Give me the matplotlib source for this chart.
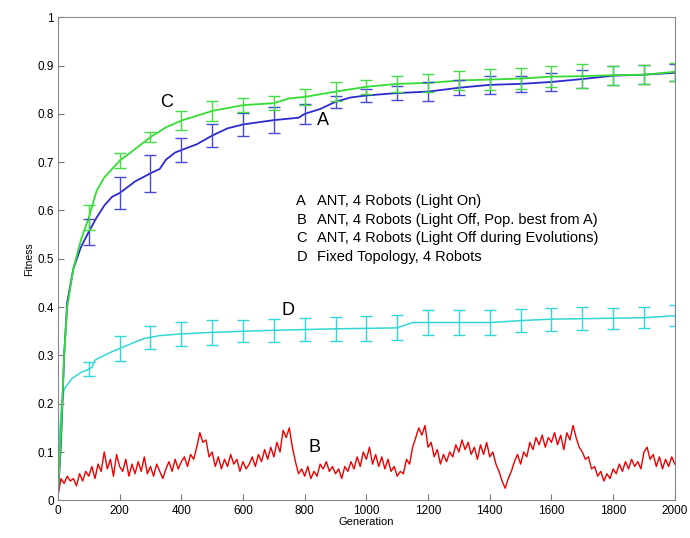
import matplotlib
matplotlib.use('Agg')
import matplotlib.pyplot as plt
import numpy as np

plt.rcParams['font.family'] = ['Liberation Sans', 'DejaVu Sans']

# Curve A: ANT, 4 robots (light on)
gen_a = [0, 10, 20, 30, 50, 75, 100, 125, 150, 175, 200, 250, 300, 330, 350, 380, 400,
         450, 500, 550, 600, 700, 780, 800, 850, 900, 950, 1000, 1100, 1200, 1300,
         1400, 1500, 1600, 1700, 1800, 1900, 2000]
fit_a = [0.01, 0.12, 0.30, 0.41, 0.48, 0.525, 0.556, 0.585, 0.61, 0.628, 0.636, 0.66, 0.677,
         0.686, 0.705, 0.72, 0.725, 0.737, 0.755, 0.77, 0.778, 0.787, 0.792, 0.80, 0.81,
         0.825, 0.834, 0.838, 0.843, 0.846, 0.854, 0.86, 0.862, 0.866, 0.872, 0.879,
         0.881, 0.885]

# Curve C: ANT, 4 robots (light off during evolutions)
gen_c = [0, 10, 20, 30, 50, 75, 100, 125, 150, 200, 250, 300, 350, 400, 450, 500, 550,
         600, 700, 750, 800, 900, 1000, 1100, 1200, 1300, 1400, 1500, 1600, 1700, 1800,
         1900, 2000]
fit_c = [0.01, 0.14, 0.30, 0.40, 0.48, 0.54, 0.585, 0.64, 0.668, 0.703, 0.727, 0.752, 0.772,
         0.786, 0.796, 0.806, 0.812, 0.818, 0.822, 0.832, 0.835, 0.846, 0.856, 0.862,
         0.864, 0.869, 0.871, 0.873, 0.877, 0.878, 0.880, 0.881, 0.887]

# Curve D: fixed topology, 4 robots
gen_d = [0, 5, 10, 20, 45, 75, 95, 110, 120, 140, 180, 240, 280, 330, 390, 480, 600, 700,
         900, 1100, 1150, 1200, 1400, 1500, 1600, 1700, 1900, 2000]
fit_d = [0.01, 0.13, 0.185, 0.23, 0.252, 0.265, 0.27, 0.275, 0.29, 0.297, 0.309, 0.325,
         0.335, 0.341, 0.344, 0.347, 0.35, 0.352, 0.355, 0.357, 0.368, 0.368, 0.368,
         0.372, 0.375, 0.376, 0.378, 0.382]

# error bars every 100 generations
err_gen = [100, 200, 300, 400, 500, 600, 700, 800, 900, 1000, 1100, 1200, 1300, 1400,
           1500, 1600, 1700, 1800, 1900, 2000]
err_a = [0.027, 0.033, 0.038, 0.025, 0.024, 0.024, 0.027, 0.02, 0.012, 0.014, 0.015,
         0.02, 0.016, 0.018, 0.017, 0.018, 0.018, 0.02, 0.02, 0.018]
err_c = [0.026, 0.016, 0.011, 0.02, 0.02, 0.014, 0.014, 0.016, 0.02, 0.015, 0.016,
         0.018, 0.019, 0.022, 0.022, 0.022, 0.025, 0.02, 0.02, 0.018]
err_d = [0.014, 0.025, 0.024, 0.025, 0.025, 0.023, 0.024, 0.024, 0.025, 0.026, 0.026,
         0.025, 0.025, 0.025, 0.024, 0.024, 0.024, 0.022, 0.022, 0.022]

# Curve B: ANT, 4 robots (light off, pop. best from A), every 10 generations
gen_b = list(range(0, 2001, 10))
fit_b = [0.01, 0.045, 0.035, 0.05, 0.04, 0.045, 0.03, 0.055, 0.04, 0.06,
         0.05, 0.07, 0.045, 0.075, 0.06, 0.1, 0.065, 0.085, 0.05, 0.095,
         0.07, 0.06, 0.085, 0.05, 0.075, 0.055, 0.08, 0.06, 0.09, 0.055,
         0.07, 0.05, 0.075, 0.06, 0.045, 0.065, 0.08, 0.06, 0.085, 0.065,
         0.08, 0.09, 0.07, 0.095, 0.085, 0.11, 0.14, 0.12, 0.125, 0.09,
         0.1, 0.07, 0.09, 0.065, 0.085, 0.07, 0.095, 0.075, 0.085, 0.06,
         0.08, 0.065, 0.075, 0.09, 0.07, 0.095, 0.08, 0.105, 0.085, 0.11,
         0.09, 0.12, 0.1, 0.145, 0.13, 0.15, 0.11, 0.08, 0.055, 0.065,
         0.05, 0.07, 0.045, 0.06, 0.05, 0.075, 0.065, 0.08, 0.06, 0.07,
         0.055, 0.065, 0.045, 0.07, 0.06, 0.08, 0.065, 0.09, 0.07, 0.1,
         0.085, 0.11, 0.075, 0.095, 0.07, 0.09, 0.065, 0.085, 0.06, 0.07,
         0.05, 0.06, 0.055, 0.085, 0.075, 0.11, 0.13, 0.15, 0.135, 0.155,
         0.11, 0.12, 0.09, 0.105, 0.075, 0.095, 0.08, 0.1, 0.09, 0.115,
         0.1, 0.125, 0.105, 0.12, 0.095, 0.11, 0.085, 0.115, 0.095, 0.12,
         0.09, 0.1, 0.075, 0.06, 0.04, 0.025, 0.045, 0.06, 0.08, 0.095,
         0.075, 0.1, 0.09, 0.12, 0.105, 0.13, 0.115, 0.135, 0.11, 0.13,
         0.12, 0.14, 0.115, 0.135, 0.105, 0.14, 0.125, 0.155, 0.13, 0.11,
         0.1, 0.085, 0.09, 0.065, 0.07, 0.05, 0.06, 0.04, 0.055, 0.045,
         0.065, 0.055, 0.075, 0.06, 0.08, 0.065, 0.085, 0.07, 0.08, 0.065,
         0.1, 0.11, 0.085, 0.095, 0.07, 0.09, 0.065, 0.085, 0.07, 0.09,
         0.075]

legend_keys = ['A', 'B', 'C', 'D']
legend_text = ['ANT, 4 Robots (Light On)',
               'ANT, 4 Robots (Light Off, Pop. best from A)',
               'ANT, 4 Robots (Light Off during Evolutions)',
               'Fixed Topology, 4 Robots']

col_a = '#2a2ad0'
col_b = '#ee0000'
col_c = '#33dd33'
col_d = '#33d6d6'

fig = plt.figure(figsize=(6.9, 5.38), dpi=100)
ax = fig.add_axes([0.084, 0.07, 0.894, 0.898])

ax.plot(gen_b, fit_b, color=col_b, lw=1.0)
ax.plot(gen_d, fit_d, color=col_d, lw=1.1)
ax.plot(gen_a, fit_a, color=col_a, lw=1.3)
ax.plot(gen_c, fit_c, color=col_c, lw=1.3)

# error bars sit on the curves
ea = np.interp(err_gen, gen_a, fit_a)
ec = np.interp(err_gen, gen_c, fit_c)
ed = np.interp(err_gen, gen_d, fit_d)
ax.errorbar(err_gen, ed, yerr=err_d, fmt='none', ecolor=col_d, elinewidth=1, capsize=4.3)
ax.errorbar(err_gen, ea, yerr=err_a, fmt='none', ecolor='#4848d8', elinewidth=1, capsize=4.3)
ax.errorbar(err_gen, ec, yerr=err_c, fmt='none', ecolor='#44dd44', elinewidth=1, capsize=4.3)

# curve labels
ax.text(353, 0.824, 'C', fontsize=13, ha='center', va='center')
ax.text(859, 0.787, 'A', fontsize=13, ha='center', va='center')
ax.text(746, 0.393, 'D', fontsize=13, ha='center', va='center')
ax.text(833, 0.109, 'B', fontsize=13, ha='center', va='center')

# legend as text block
for i, (k, t) in enumerate(zip(legend_keys, legend_text)):
    y = 0.62 - i * 0.039
    ax.text(773, y, k, fontsize=10.5, va='center', ha='left')
    ax.text(840, y, t, fontsize=10.5, va='center', ha='left')

ax.set_xlim(0, 2000)
ax.set_ylim(0, 1)
ax.set_xticks(range(0, 2001, 200))
ax.set_yticks(np.arange(0, 1.01, 0.1))
ax.set_yticklabels(['0', '0.1', '0.2', '0.3', '0.4', '0.5', '0.6', '0.7', '0.8', '0.9', '1'])
ax.tick_params(direction='in', length=4, labelsize=8.5, color='#777777', pad=3)
for s in ax.spines.values():
    s.set_color('#888888')
ax.set_xlabel('Generation', fontsize=8, labelpad=0)
ax.set_ylabel('Fitness', fontsize=7.5, labelpad=2)

fig.savefig('out.png', dpi=100)
